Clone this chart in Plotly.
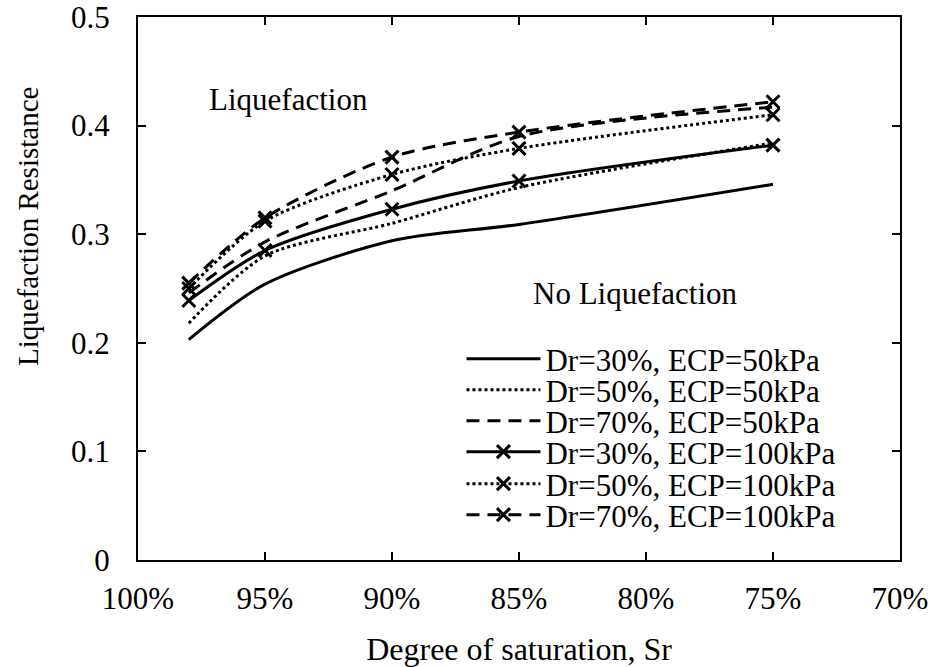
import plotly.graph_objects as go

saturation = [98, 95, 90, 85, 75]
dr30_ecp50 = [0.203, 0.254, 0.294, 0.309, 0.346]
dr50_ecp50 = [0.218, 0.280, 0.310, 0.343, 0.384]
dr70_ecp50 = [0.246, 0.293, 0.340, 0.390, 0.417]
dr30_ecp100 = [0.239, 0.285, 0.323, 0.349, 0.382]
dr50_ecp100 = [0.250, 0.312, 0.355, 0.379, 0.410]
dr70_ecp100 = [0.255, 0.315, 0.371, 0.394, 0.422]

series = [
    ("Dr=30%, ECP=50kPa", dr30_ecp50, "solid", False),
    ("Dr=50%, ECP=50kPa", dr50_ecp50, "dot", False),
    ("Dr=70%, ECP=50kPa", dr70_ecp50, "13px,8px", False),
    ("Dr=30%, ECP=100kPa", dr30_ecp100, "solid", True),
    ("Dr=50%, ECP=100kPa", dr50_ecp100, "dot", True),
    ("Dr=70%, ECP=100kPa", dr70_ecp100, "13px,8px", True),
]

FONT = "Liberation Serif"

# legend row centres (pixels from top), one small legend per series
legend_rows_px = [359, 390, 421, 452, 484, 515]
PLOT_TOP, PLOT_BOTTOM = 17, 560

fig = go.Figure()
legend_layout = {}
for i, (name, vals, dash, mk) in enumerate(series):
    lname = "legend" if i == 0 else f"legend{i + 1}"
    fig.add_trace(go.Scatter(
        x=saturation, y=vals, name=name, legend=lname,
        mode="lines+markers" if mk else "lines",
        line=dict(color="black", width=3, dash=dash, shape="spline", smoothing=0.8),
        marker=dict(symbol="x-thin-open", size=13, color="black",
                    line=dict(color="black", width=3)),
    ))
    ypos = (PLOT_BOTTOM - legend_rows_px[i]) / (PLOT_BOTTOM - PLOT_TOP)
    legend_layout[lname] = dict(
        x=0.4245, y=ypos, xanchor="left", yanchor="middle",
        font=dict(family=FONT, size=31, color="black"),
        bgcolor="rgba(0,0,0,0)", itemwidth=74, borderwidth=0,
    )

fig.update_layout(
    width=935, height=667,
    margin=dict(l=138, r=35, t=17, b=107, autoexpand=False),
    paper_bgcolor="white", plot_bgcolor="white",
    font=dict(family=FONT, color="black", size=30),
    showlegend=True,
    xaxis=dict(range=[100, 70], dtick=5, tick0=70, ticksuffix="%",
               showline=True, linecolor="black", linewidth=2, mirror="ticks",
               ticks="inside", ticklen=8, tickwidth=2, tickcolor="black",
               showgrid=False, zeroline=False, ticklabeloverflow="allow",
               automargin=False,
               tickfont=dict(size=31), ticklabelstandoff=10,
               title=dict(text="Degree of saturation, Sr", font=dict(size=32), standoff=28)),
    yaxis=dict(range=[0, 0.5], dtick=0.1,
               showline=True, linecolor="black", linewidth=2, mirror="ticks",
               ticks="inside", ticklen=8, tickwidth=2, tickcolor="black",
               showgrid=False, zeroline=False, ticklabeloverflow="allow",
               automargin=False,
               tickfont=dict(size=31), ticklabelstandoff=20),
    annotations=[
        dict(text="Liquefaction Resistance", x=-0.1444, y=0.615, xref="paper", yref="paper",
             xanchor="center", yanchor="middle",
             textangle=-90, showarrow=False, font=dict(size=29)),
        dict(text="Liquefaction", x=94.09, y=0.4236, xref="x", yref="y",
             showarrow=False, font=dict(size=31)),
        dict(text="No Liquefaction", x=80.4, y=0.2455, xref="x", yref="y",
             showarrow=False, font=dict(size=31)),
    ],
    **legend_layout,
)

fig.write_html("out.html")
